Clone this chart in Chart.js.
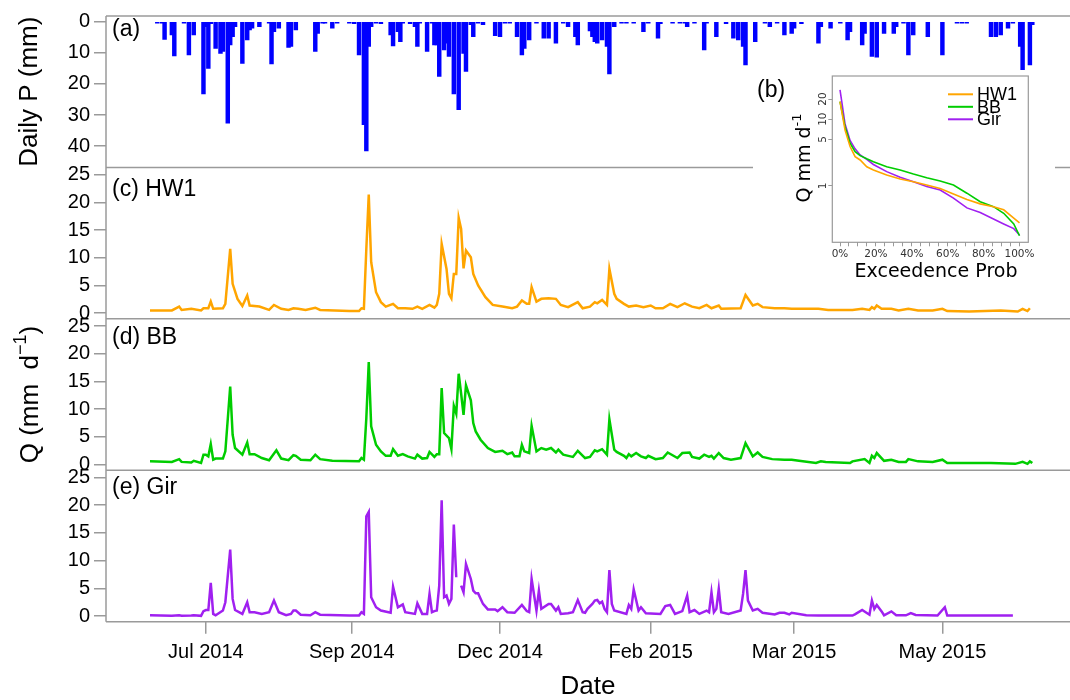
<!DOCTYPE html>
<html>
<head>
<meta charset="utf-8">
<script src="https://cdn.jsdelivr.net/npm/chart.js@4.4.1/dist/chart.umd.min.js"></script>
<style>
  html, body { margin: 0; padding: 0; background: #fff; overflow: hidden; }
  #wrap { position: relative; width: 1070px; height: 700px; }
  #main { position: absolute; left: 0; top: 0; }
  #inset { position: absolute; left: 753px; top: 70px; background: #fff; }
</style>
</head>
<body>
<div id="wrap">
  <canvas id="main" width="1070" height="700"></canvas>
  <canvas id="inset" width="302" height="225"></canvas>
</div>
<script>
// days counted from 1 Jul 2014
const tickDays = [1, 61, 122, 184, 243, 304];
const tickLabels = ['Jul 2014', 'Sep 2014', 'Dec 2014', 'Feb 2015', 'Mar 2015', 'May 2015'];
const pTicks = [0, 10, 20, 30, 40];
const qTicks = [0, 5, 10, 15, 20, 25];

// daily precipitation (mm)
const precipDays = [
  -19, -17, -16, -13, -12, -8, -6, -4, 0, 1,
  2, 3, 5, 7, 8, 10, 11, 12, 13, 16,
  18, 19, 20, 23, 27, 28, 29, 31, 35, 36,
  38, 46, 47, 49, 50, 53, 55, 60, 62, 64,
  66, 67, 68, 69, 71, 73, 77, 78, 80, 81,
  82, 85, 87, 88, 89, 92, 94, 95, 96, 97,
  99, 100, 101, 103, 105, 107, 108, 110, 111, 113,
  115, 120, 122, 124, 126, 129, 131, 132, 134, 137,
  140, 142, 145, 148, 150, 153, 154, 159, 160, 161,
  162, 164, 166, 167, 169, 172, 174, 177, 181, 183,
  187, 188, 193, 196, 198, 199, 202, 206, 207, 211,
  215, 218, 220, 222, 223, 227, 231, 233, 236, 239,
  242, 243, 246, 253, 254, 258, 262, 265, 266, 271,
  272, 275, 277, 280, 284, 285, 288, 290, 292, 298,
  304, 310, 312, 314, 324, 326, 328, 331, 333, 336,
  337, 340, 341
];
const precipMm = [
  0.5, 0.5, 5.7, 4.3, 11.0, 0.5, 10.7, 4.3, 23.2, 1.6,
  15.0, 0.7, 8.6, 10.2, 9.6, 32.6, 7.5, 4.8, 1.6, 13.4,
  5.9, 2.7, 2.1, 1.6, 0.5, 13.6, 3.2, 2.1, 8.3, 8.0,
  2.7, 9.6, 3.8, 0.5, 0.5, 2.1, 0.5, 0.5, 0.7, 10.7,
  33.1, 41.5, 8.0, 1.6, 0.5, 0.7, 4.3, 7.8, 3.2, 6.4,
  0.5, 0.7, 1.6, 8.0, 0.5, 9.6, 0.5, 7.5, 7.5, 17.6,
  9.1, 6.9, 11.2, 23.2, 28.3, 10.2, 16.0, 1.0, 4.8, 0.5,
  1.0, 4.5, 4.8, 0.5, 0.5, 4.8, 10.7, 8.6, 5.9, 0.5,
  5.3, 5.3, 6.9, 0.5, 1.6, 4.8, 7.5, 3.0, 4.8, 6.4,
  6.9, 5.9, 8.0, 16.8, 1.6, 0.5, 0.5, 0.5, 3.2, 0.5,
  5.3, 0.7, 0.5, 0.5, 0.5, 1.6, 0.5, 9.1, 0.5, 4.8,
  0.7, 5.3, 5.9, 8.0, 13.9, 6.4, 0.5, 1.6, 0.5, 4.3,
  3.8, 2.1, 0.7, 6.9, 1.6, 2.1, 0.5, 5.9, 3.2, 7.5,
  3.8, 11.2, 11.4, 3.8, 3.8, 1.6, 0.5, 10.7, 4.3, 4.8,
  10.7, 0.5, 0.5, 0.5, 4.8, 4.8, 4.3, 2.1, 0.5, 8.0,
  15.5, 13.9, 1.0
];

// discharge HW1 (mm/d)
const hw1Days = [
  -22, -13, -10, -9, -5, -1, 0, 2, 3, 4,
  8, 9, 11, 12, 14, 16, 18, 19, 23, 27,
  29, 32, 35, 37, 39, 42, 46, 48, 60, 64,
  65, 66, 67, 68, 69, 71, 73, 75, 78, 80,
  83, 86, 88, 90, 93, 95, 96, 97, 98, 100,
  101, 102, 103, 104, 105, 106, 107, 108, 110, 111,
  113, 116, 119, 123, 127, 129, 131, 133, 134, 135,
  137, 139, 142, 145, 147, 150, 154, 156, 159, 161,
  162, 164, 166, 167, 169, 170, 173, 175, 178, 181,
  184, 186, 189, 192, 195, 198, 201, 204, 207, 209,
  212, 213, 221, 222, 223, 226, 228, 230, 235, 239,
  242, 248, 253, 257, 267, 271, 274, 275, 276, 277,
  279, 283, 286, 290, 294, 300, 304, 306, 315, 328,
  335, 337, 339, 340
];
const hw1Q = [
  0.5, 0.5, 1.2, 0.6, 0.8, 0.5, 0.9, 0.9, 2.1, 0.8,
  0.9, 1.7, 11.6, 5.3, 2.6, 1.3, 3.2, 1.4, 1.2, 0.6,
  1.5, 0.8, 0.6, 0.9, 0.8, 0.6, 1.0, 0.6, 0.4, 0.4,
  0.9, 0.8, 11.6, 21.4, 9.2, 3.8, 2.0, 1.2, 1.7, 0.9,
  0.9, 0.8, 1.2, 0.8, 1.5, 1.0, 1.5, 3.5, 12.5, 8.0,
  3.5, 2.7, 7.1, 7.1, 17.2, 15.2, 8.1, 11.3, 10.1, 7.1,
  5.0, 2.9, 1.5, 1.2, 0.9, 1.2, 2.3, 1.7, 1.7, 4.7,
  2.1, 2.6, 2.7, 2.6, 1.5, 1.1, 2.0, 0.9, 1.2, 2.0,
  1.8, 2.4, 1.5, 8.0, 3.5, 2.6, 1.7, 1.2, 1.4, 1.1,
  1.4, 0.9, 0.9, 1.7, 1.1, 1.8, 1.2, 0.9, 1.5, 0.9,
  1.4, 0.8, 0.9, 2.1, 3.3, 1.4, 1.7, 1.1, 0.9, 0.9,
  0.8, 0.8, 0.8, 0.6, 0.6, 0.8, 0.6, 1.1, 0.8, 1.4,
  0.8, 0.8, 0.5, 0.8, 0.5, 0.5, 0.8, 0.4, 0.3, 0.5,
  0.3, 0.8, 0.4, 0.9
];

// discharge BB (mm/d)
const bbDays = [
  -22, -13, -10, -9, -5, -4, -1, 0, 1, 2,
  3, 4, 5, 8, 9, 11, 12, 13, 16, 18,
  19, 21, 24, 27, 30, 32, 35, 37, 38, 40,
  44, 46, 48, 53, 64, 65, 66, 67, 68, 69,
  71, 73, 75, 77, 78, 80, 82, 84, 87, 88,
  90, 92, 93, 95, 96, 97, 98, 99, 101, 102,
  103, 104, 105, 106, 107, 108, 110, 111, 112, 114,
  117, 120, 123, 125, 127, 128, 130, 131, 132, 134,
  135, 137, 139, 141, 143, 145, 146, 148, 151, 152,
  154, 157, 159, 161, 162, 164, 166, 167, 169, 170,
  173, 174, 175, 176, 178, 180, 182, 183, 186, 189,
  191, 195, 197, 200, 201, 204, 206, 208, 209, 210,
  212, 214, 217, 221, 223, 226, 228, 230, 234, 239,
  242, 245, 252, 254, 256, 266, 267, 272, 274, 275,
  276, 277, 280, 283, 286, 289, 290, 294, 300, 304,
  306, 315, 324, 334, 337, 339, 340, 341
];
const bbQ = [
  0.6, 0.5, 1.0, 0.5, 0.4, 0.7, 0.3, 1.8, 1.8, 1.5,
  3.7, 0.9, 1.1, 1.1, 2.4, 14.1, 5.4, 3.0, 1.8, 4.0,
  1.9, 1.9, 1.2, 0.8, 2.6, 1.1, 0.8, 1.7, 1.6, 0.9,
  0.8, 1.8, 1.0, 0.7, 0.6, 1.2, 0.9, 8.4, 18.5, 6.9,
  3.6, 2.4, 1.6, 1.6, 2.8, 1.6, 1.9, 1.5, 1.1, 1.8,
  1.1, 1.2, 2.3, 1.4, 1.9, 1.9, 13.8, 5.7, 4.8, 2.8,
  10.6, 9.2, 16.4, 12.8, 9.0, 14.3, 11.6, 7.5, 6.0, 4.5,
  3.0, 2.3, 2.5, 1.9, 2.2, 1.5, 1.5, 3.6, 2.4, 2.1,
  7.0, 2.4, 3.0, 2.7, 3.0, 2.2, 2.7, 1.8, 1.5, 1.4,
  2.5, 1.2, 1.4, 2.6, 2.4, 2.8, 1.8, 8.2, 2.7, 2.3,
  1.6, 1.2, 1.9, 1.5, 2.1, 1.5, 1.2, 1.6, 1.0, 1.2,
  2.2, 1.2, 2.1, 2.2, 1.4, 1.1, 1.8, 1.4, 1.6, 1.1,
  2.1, 1.2, 0.9, 1.2, 3.9, 1.5, 2.2, 1.4, 1.0, 0.9,
  0.9, 0.7, 0.3, 0.6, 0.5, 0.3, 0.6, 1.0, 0.3, 1.6,
  1.2, 2.1, 0.7, 0.9, 0.5, 0.5, 1.0, 0.6, 0.5, 0.9,
  0.3, 0.3, 0.3, 0.15, 0.5, 0.15, 0.6, 0.3
];

// discharge Gir (mm/d), null = missing day
const girDays = [
  -22, -13, -10, -9, -5, -4, -1, 0, 1, 2,
  3, 4, 5, 8, 9, 11, 12, 13, 16, 18,
  19, 21, 24, 27, 29, 31, 34, 36, 37, 38,
  40, 44, 46, 48, 60, 64, 65, 66, 67, 68,
  69, 71, 73, 77, 78, 80, 82, 83, 87, 88,
  90, 92, 93, 94, 95, 96, 97, 98, 99, 100,
  101, 102, 103, 104, 105, 106, 107, 108, 110, 111,
  112, 113, 115, 117, 120, 121, 123, 125, 128, 131,
  133, 134, 135, 137, 138, 139, 142, 143, 145, 146,
  147, 150, 152, 154, 156, 157, 158, 160, 161, 162,
  163, 164, 165, 166, 167, 168, 169, 174, 175, 176,
  177, 179, 180, 182, 188, 190, 192, 194, 197, 199,
  200, 202, 204, 207, 208, 209, 210, 211, 212, 213,
  216, 221, 222, 223, 224, 226, 228, 230, 235, 237,
  239, 241, 242, 248, 253, 267, 268, 271, 274, 275,
  276, 277, 279, 280, 283, 285, 289, 291, 293, 302,
  305, 306, 315, 322, 333
];
const girQ = [
  0.15, 0.05, 0.15, 0.05, 0.1, 0.15, 0.05, 0.9, 1.1, 1.1,
  6.0, 0.4, 0.15, 1.0, 2.5, 12.0, 3.1, 1.1, 0.4, 2.5,
  0.7, 0.7, 0.4, 0.7, 2.8, 0.7, 0.15, 0.4, 1.0, 1.0,
  0.25, 0.15, 0.7, 0.25, 0.1, 0.1, 0.7, 0.4, 18.0, 18.8,
  3.4, 1.6, 1.0, 0.6, 5.3, 1.6, 2.1, 0.7, 0.4, 2.3,
  0.4, 0.4, 4.0, 0.7, 0.9, 1.0, 5.5, 20.9, 3.4, 3.7,
  2.2, 3.1, 16.5, 7.0, null, 5.5, 4.3, 9.4, 6.7, 4.6,
  4.1, 4.1, 2.2, 1.2, 1.2, 0.9, 1.6, 0.7, 0.6, 2.0,
  0.9, 0.7, 6.7, 1.0, 4.6, 1.3, 2.2, 2.2, 1.0, 1.6,
  0.4, 0.5, 0.7, 2.9, 0.7, 0.6, 1.3, 2.2, 2.8, 2.9,
  2.3, 2.6, 1.3, 0.7, 8.3, 2.2, 1.0, 0.4, 2.0, 1.3,
  4.8, 1.0, 1.6, 0.5, 0.4, 1.8, 2.0, 0.4, 0.9, 3.7,
  0.7, 1.1, 0.4, 1.0, 0.7, 4.3, 0.7, 1.3, 4.9, 0.7,
  0.4, 1.0, 4.0, 8.3, 2.8, 1.0, 1.3, 0.6, 0.3, 0.6,
  0.6, 0.3, 0.6, 0.15, 0.1, 0.1, 0.3, 1.1, 0.25, 2.8,
  1.3, 2.0, 0.85, 0.15, 0.85, 0.15, 0.15, 0.55, 0.2, 0.1,
  1.6, 0.1, 0.1, 0.1, 0.1
];

// flow duration curves (inset b)
const fdcNames = ['HW1', 'BB', 'Gir'];
const fdcColors = ['#ffa500', '#00cd00', '#a020f0'];
const fdcPct = [0, 2.8, 5.6, 8.4, 11.2, 14.9, 18.6, 26, 33.5, 40.9, 48.3, 55.8, 63.2, 70.7, 78.1, 85.5, 91.2, 96.8, 100];
const fdcHW1 = [18.3, 6.9, 3.9, 2.75, 2.45, 1.94, 1.74, 1.46, 1.27, 1.16, 1.035, 0.92, 0.76, 0.63, 0.54, 0.49, 0.44, 0.33, 0.28];
const fdcBB = [18.3, 7.7, 4.36, 3.26, 2.85, 2.55, 2.31, 1.94, 1.74, 1.51, 1.33, 1.19, 1.035, 0.78, 0.58, 0.49, 0.39, 0.27, 0.18];
const fdcGir = [27.4, 8.5, 4.8, 3.6, 2.91, 2.5, 2.1, 1.64, 1.35, 1.16, 0.98, 0.87, 0.66, 0.47, 0.4, 0.32, 0.27, 0.23, 0.185];
const fdcXTicks = [0, 5, 10, 15, 20, 25, 30, 35, 40, 45, 50, 55, 60, 65, 70, 75, 80, 85, 90, 95, 100];
const fdcYTicks = [1, 5, 10, 20];

const grey = '#9a9a9a';
const sans = '"Liberation Sans", Arial, sans-serif';
Chart.defaults.font.family = sans;

function pairs(xs, ys) {
  return xs.map((x, i) => ({ x: x, y: ys[i] }));
}

function rotatedText(ctx, x, y, main, sup, tail, size, family) {
  ctx.save();
  ctx.translate(x, y);
  ctx.rotate(-Math.PI / 2);
  const f = size + 'px ' + family;
  const fs = Math.round(size * 0.68) + 'px ' + family;
  ctx.font = f;
  const w1 = ctx.measureText(main).width;
  const w3 = ctx.measureText(tail).width;
  ctx.font = fs;
  const w2 = ctx.measureText(sup).width;
  let cx = -(w1 + w2 + w3) / 2;
  ctx.textBaseline = 'middle';
  ctx.textAlign = 'left';
  ctx.fillStyle = '#000';
  ctx.font = f;
  ctx.fillText(main, cx, 0);
  cx += w1;
  ctx.font = fs;
  ctx.fillText(sup, cx, -size * 0.38);
  cx += w2;
  ctx.font = f;
  ctx.fillText(tail, cx, 0);
  ctx.restore();
}

const panelFrame = {
  id: 'panelFrame',
  afterDraw(chart) {
    const { ctx, chartArea: ca, scales } = chart;
    ctx.save();
    ctx.strokeStyle = grey;
    ctx.lineWidth = 1.5;
    ctx.beginPath();
    ['yP', 'yC', 'yD', 'yE'].forEach(id => {
      ctx.moveTo(ca.left, scales[id].top);
      ctx.lineTo(ca.right, scales[id].top);
    });
    ctx.moveTo(ca.left, scales.yE.bottom);
    ctx.lineTo(ca.right, scales.yE.bottom);
    ctx.moveTo(ca.left, ca.top);
    ctx.lineTo(ca.left, ca.bottom);
    ctx.stroke();

    // panel tags
    ctx.fillStyle = '#000';
    ctx.font = '23px ' + sans;
    ctx.textAlign = 'left';
    ctx.textBaseline = 'middle';
    ctx.fillText('(a)', 112, scales.yP.top + 14);
    ctx.fillText('(c) HW1', 112, scales.yC.top + 22);
    ctx.fillText('(d) BB', 112, scales.yD.top + 19);
    ctx.fillText('(e) Gir', 112, scales.yE.top + 17);

    // axis titles
    rotatedText(ctx, 30, (scales.yP.top + scales.yP.bottom) / 2, 'Daily P (mm)', '', '', 26, sans);
    rotatedText(ctx, 31, (scales.yD.top + scales.yD.bottom) / 2, 'Q (mm  d', '\u22121', ')', 26, sans);
    ctx.font = '26px ' + sans;
    ctx.textAlign = 'center';
    ctx.fillText('Date', (ca.left + ca.right) / 2, 687);
    ctx.restore();
  }
};

function panelAxis(weight, min, max, ticks, reverse) {
  return {
    type: 'linear',
    position: 'left',
    stack: 'panels',
    stackWeight: 1,
    weight: weight,
    min: min,
    max: max,
    reverse: reverse,
    afterBuildTicks: s => { s.ticks = ticks.map(v => ({ value: v })); },
    afterFit: s => { s.width = 106; },
    grid: { drawOnChartArea: false, offset: false, tickLength: 12, color: grey, lineWidth: 1.5 },
    border: { display: false },
    ticks: { color: '#000', padding: 4, autoSkip: false, font: { size: 20 } }
  };
}

new Chart(document.getElementById('main'), {
  type: 'line',
  data: {
    datasets: [
      {
        type: 'bar', label: 'P', yAxisID: 'yP',
        data: pairs(precipDays, precipMm),
        backgroundColor: '#0000ff', borderWidth: 0, barThickness: 3.8
      },
      {
        label: 'HW1', yAxisID: 'yC', data: pairs(hw1Days, hw1Q),
        borderColor: '#ffa500', borderWidth: 2.5, pointRadius: 0, tension: 0
      },
      {
        label: 'BB', yAxisID: 'yD', data: pairs(bbDays, bbQ),
        borderColor: '#00cd00', borderWidth: 2.5, pointRadius: 0, tension: 0
      },
      {
        label: 'Gir', yAxisID: 'yE', data: pairs(girDays, girQ),
        borderColor: '#a020f0', borderWidth: 2.5, pointRadius: 0, tension: 0, spanGaps: false
      }
    ]
  },
  options: {
    responsive: false,
    animation: false,
    layout: { padding: { top: 12.7, right: 0, bottom: 0, left: 0 } },
    plugins: { legend: { display: false }, tooltip: { enabled: false } },
    scales: {
      x: {
        type: 'linear', min: -40.1, max: 356.5, offset: false,
        afterBuildTicks: s => { s.ticks = tickDays.map(v => ({ value: v })); },
        afterFit: s => { s.height = 78.3; },
        grid: { drawOnChartArea: false, offset: false, tickLength: 12, color: grey, lineWidth: 1.5 },
        border: { display: false },
        ticks: {
          color: '#000', padding: 7, autoSkip: false, maxRotation: 0, font: { size: 20 },
          callback: (v, i) => tickLabels[i]
        }
      },
      yE: panelAxis(1, -1.01, 26.3, qTicks, false),
      yD: panelAxis(2, -1.01, 26.3, qTicks, false),
      yC: panelAxis(3, -1.01, 26.3, qTicks, false),
      yP: panelAxis(4, -1.8, 46.8, pTicks, true)
    }
  },
  plugins: [panelFrame]
});

const insetDecor = {
  id: 'insetDecor',
  afterDraw(chart) {
    const { ctx, chartArea: ca, scales } = chart;
    const dv = '"DejaVu Sans", sans-serif';
    ctx.save();
    ctx.strokeStyle = grey;
    ctx.lineWidth = 1.2;
    ctx.strokeRect(ca.left, ca.top, ca.right - ca.left, ca.bottom - ca.top);

    ctx.fillStyle = '#333';
    ctx.font = '10.5px ' + dv;
    ctx.textAlign = 'center';
    ctx.textBaseline = 'middle';
    fdcYTicks.forEach(v => {
      const y = scales.y.getPixelForValue(v);
      ctx.save();
      ctx.translate(ca.left - 9, y);
      ctx.rotate(-Math.PI / 2);
      ctx.fillText(String(v), 0, 0);
      ctx.restore();
    });

    ctx.fillStyle = '#000';
    ctx.font = '23px ' + sans;
    ctx.textAlign = 'left';
    ctx.fillText('(b)', 4, 21);

    ctx.font = '19px ' + dv;
    ctx.textAlign = 'center';
    ctx.fillText('Exceedence Prob', 183, 202);
    rotatedText(ctx, 52, 88, 'Q mm d', '-1', '', 19, dv);

    fdcNames.forEach((n, i) => {
      const y = 24.3 + i * 12.5;
      ctx.strokeStyle = fdcColors[i];
      ctx.lineWidth = 2;
      ctx.beginPath();
      ctx.moveTo(195, y);
      ctx.lineTo(220, y);
      ctx.stroke();
      ctx.fillStyle = '#000';
      ctx.font = '18px ' + sans;
      ctx.textAlign = 'left';
      ctx.fillText(n, 224, y + 1);
    });
    ctx.restore();
  }
};

new Chart(document.getElementById('inset'), {
  type: 'line',
  data: {
    datasets: [fdcHW1, fdcBB, fdcGir].map((q, i) => ({
      label: fdcNames[i], data: pairs(fdcPct, q),
      borderColor: fdcColors[i], borderWidth: 1.6, pointRadius: 0, tension: 0
    }))
  },
  options: {
    responsive: false,
    animation: false,
    layout: { padding: { top: 6, right: 26.7, left: 0, bottom: 0 } },
    plugins: { legend: { display: false }, tooltip: { enabled: false } },
    scales: {
      x: {
        type: 'linear', min: -4.3, max: 104.9,
        afterBuildTicks: s => { s.ticks = fdcXTicks.map(v => ({ value: v })); },
        afterFit: s => { s.height = 52.7; },
        grid: { drawOnChartArea: false, tickLength: 4, color: grey },
        border: { display: false },
        ticks: {
          color: '#333', padding: 2, autoSkip: false, maxRotation: 0,
          font: { size: 10.5, family: '"DejaVu Sans", sans-serif' },
          callback: v => (v % 20 === 0 ? v + '%' : '')
        }
      },
      y: {
        type: 'logarithmic', min: 0.1436, max: 44.3,
        afterBuildTicks: s => { s.ticks = fdcYTicks.map(v => ({ value: v })); },
        afterFit: s => { s.width = 79.3; },
        grid: { drawOnChartArea: false, tickLength: 4, color: grey },
        border: { display: false },
        ticks: { display: false }
      }
    }
  },
  plugins: [insetDecor]
});
</script>
</body>
</html>
